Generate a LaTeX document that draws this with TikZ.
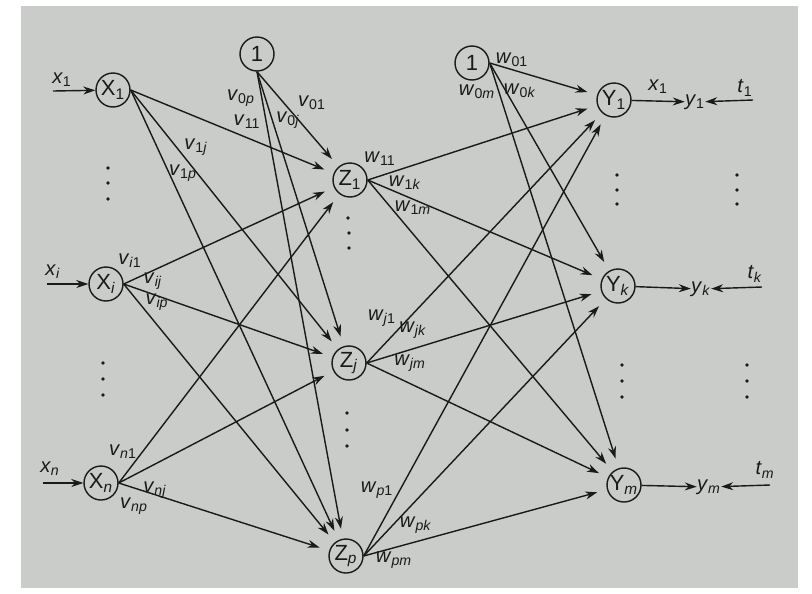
\documentclass[tikz,border=0pt]{standalone}
\usepackage{fontspec}
\setmainfont{Liberation Sans}
\usepackage{xcolor}
\definecolor{paper}{HTML}{CACCC9}
\definecolor{ink}{HTML}{1A1A1A}
\usetikzlibrary{arrows.meta}
\newcommand{\wt}[2]{\textit{#1}\textsubscript{#2}}
\tikzset{
  >={Stealth[length=2.4mm,width=1.6mm]},
  unit/.style ={circle,draw=ink,line width=0.8pt,minimum size=6.8mm,
                inner sep=0pt,text=ink,font=\fontsize{12.5}{14}\selectfont},
  lbl/.style  ={font=\fontsize{11.5}{13}\selectfont,inner sep=0pt,text=ink},
  link/.style ={->,draw=ink,line width=0.8pt,shorten >=2mm},
  feed/.style ={->,draw=ink,line width=0.8pt},
}

\begin{document}
\begin{tikzpicture}[x=0.02cm,y=-0.02cm]
\useasboundingbox (0,0) rectangle (812,593);
\fill[paper] (21,6) rectangle (798,588);
% units
\node[unit] (X1) at (113,90)  {X\textsubscript{1}};
\node[unit] (Xi) at (106,284) {X\textsubscript{\textit{i}}};
\node[unit] (Xn) at (101,483) {X\textsubscript{\textit{n}}};
\node[unit] (B1) at (257,54)  {1};
\node[unit] (Z1) at (350,180) {Z\textsubscript{1}};
\node[unit] (Zj) at (349,363) {Z\textsubscript{\textit{j}}};
\node[unit] (Zp) at (346,556) {Z\textsubscript{\textit{p}}};
\node[unit] (B2) at (472,63)  {1};
\node[unit] (Y1) at (614,100) {Y\textsubscript{1}};
\node[unit] (Yk) at (618,286) {Y\textsubscript{\textit{k}}};
\node[unit] (Ym) at (624,485) {Y\textsubscript{\textit{m}}};
% weights
\foreach \s in {X1,Xi,Xn}
  \foreach \t in {Z1,Zj,Zp}
    \draw[link] (\s.east) -- (\t);
\foreach \t in {Z1,Zj,Zp}
  \draw[link] (B1.south) -- (\t);
\foreach \s in {Z1,Zj,Zp}
  \foreach \t in {Y1,Yk,Ym}
    \draw[link] (\s.east) -- (\t);
\foreach \t in {Y1,Yk,Ym}
  \draw[link] (B2.east) -- (\t);
% inputs
\coordinate (x1s) at (53,91);
\coordinate (xis) at (47,284);
\coordinate (xns) at (43,483);
\draw[feed] (x1s) -- (X1);
\draw[feed] (xis) -- (Xi);
\draw[feed] (xns) -- (Xn);
\node[lbl] at (62,80)  {\wt{x}{1}};
\node[lbl] at (53,272) {\wt{x}{\textit{i}}};
\node[lbl] at (50,469) {\wt{x}{\textit{n}}};
% outputs and targets
\node[lbl] (y1) at (695,102) {\wt{y}{1}};
\node[lbl] (yk) at (701,289) {\wt{y}{\textit{k}}};
\node[lbl] (ym) at (709,487) {\wt{y}{\textit{m}}};
\draw[feed] (Y1) -- (y1) node[lbl,midway,above=4pt] {\wt{x}{1}};
\draw[feed] (Yk) -- (yk);
\draw[feed] (Ym) -- (ym);
\coordinate (t1s) at (753,100);
\coordinate (tks) at (762,287);
\coordinate (tms) at (770,485);
\draw[feed] (t1s) -- (y1);
\draw[feed] (tks) -- (yk);
\draw[feed] (tms) -- (ym);
\node[lbl] at (745,88)  {\wt{t}{1}};
\node[lbl] at (755,274) {\wt{t}{\textit{k}}};
\node[lbl] at (765,470) {\wt{t}{\textit{m}}};
% weight labels
\node[lbl] at (241,98)  {\wt{v}{0\textit{p}}};
\node[lbl] at (247,122) {\wt{v}{11}};
\node[lbl] at (196,147) {\wt{v}{1\textit{j}}};
\node[lbl] at (183,173) {\wt{v}{1\textit{p}}};
\node[lbl] at (312,103) {\wt{v}{01}};
\node[lbl] at (288,120) {\wt{v}{0\textit{j}}};
\node[lbl] at (130,261) {\wt{v}{\textit{i}1}};
\node[lbl] at (153,281) {\wt{v}{\textit{ij}}};
\node[lbl] at (157,302) {\wt{v}{\textit{ip}}};
\node[lbl] at (123,452) {\wt{v}{\textit{n}1}};
\node[lbl] at (155,490) {\wt{v}{\textit{nj}}};
\node[lbl] at (134,506) {\wt{v}{\textit{np}}};
\node[lbl] at (512,60)  {\wt{w}{01}};
\node[lbl] at (520,91)  {\wt{w}{0\textit{k}}};
\node[lbl] at (477,92)  {\wt{w}{0\textit{m}}};
\node[lbl] at (380,159) {\wt{w}{11}};
\node[lbl] at (405,183) {\wt{w}{1\textit{k}}};
\node[lbl] at (413,208) {\wt{w}{1\textit{m}}};
\node[lbl] at (382,318) {\wt{w}{\textit{j}1}};
\node[lbl] at (413,330) {\wt{w}{\textit{jk}}};
\node[lbl] at (410,363) {\wt{w}{\textit{jm}}};
\node[lbl] at (377,490) {\wt{w}{\textit{p}1}};
\node[lbl] at (416,525) {\wt{w}{\textit{pk}}};
\node[lbl] at (394,560) {\wt{w}{\textit{pm}}};
% vertical dots
\foreach \x/\y in {108/168,108/183,108/199, 103/363,103/379,103/395,
                   348/218,349/233,349/248, 347/413,347/430,347/446,
                   617/175,617/190,617/204, 737/175,737/190,737/204,
                   622/365,622/381,622/397, 747/365,747/381,747/397}
  \fill[ink] (\x,\y) circle[radius=1.1pt];
\end{tikzpicture}
\end{document}
